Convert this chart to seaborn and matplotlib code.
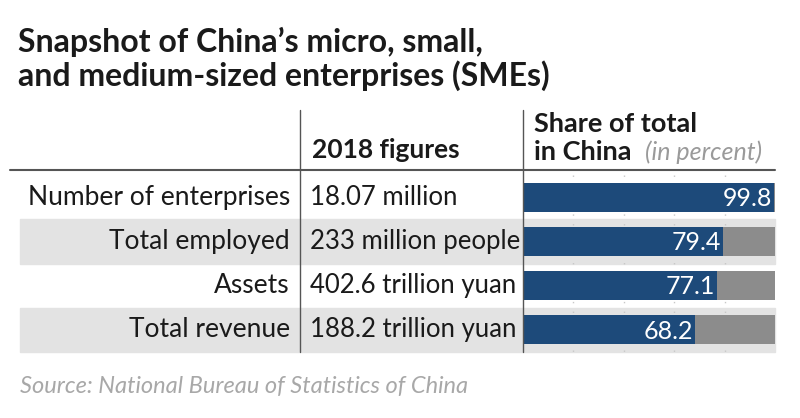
import matplotlib
matplotlib.use("Agg")
import matplotlib.pyplot as plt
import seaborn as sns
import pandas as pd
from matplotlib.patches import Rectangle
from matplotlib.lines import Line2D

# data
labels = ["Number of enterprises", "Total employed", "Assets", "Total revenue"]
figures_2018 = ["18.07 million", "233 million people", "402.6 trillion yuan", "188.2 trillion yuan"]
share = [99.8, 79.4, 77.1, 68.2]
total = [100, 100, 100, 100]

sns.set_style("white")
plt.rcParams["font.family"] = ["Lato", "DejaVu Sans"]

W, H = 800, 418
fig = plt.figure(figsize=(W / 100, H / 100), dpi=100)
fig.patch.set_facecolor("white")

def fx(x):
    return x / W

def fy(y):
    return 1 - y / H

# row geometry (pixels)
top, bottom = 175, 352
row_h = (bottom - top) / len(labels)

# grey stripes on alternate rows
for i in range(len(labels)):
    if i % 2 == 1:
        y0 = top + i * row_h
        fig.patches.append(Rectangle((fx(20), fy(y0 + row_h)), fx(775) - fx(20), row_h / H,
                                     transform=fig.transFigure, color="#e3e3e3", zorder=0))

# bar panel
ax = fig.add_axes([fx(523), fy(bottom), fx(775) - fx(523), (bottom - top) / H])
ax.set_zorder(2)
ax.patch.set_alpha(0)
df = pd.DataFrame({"label": labels, "share": share, "total": total})
ax.vlines([20, 40, 60, 80], -0.5, 3.5, colors="#c8c8c8", linestyles=(0, (1, 6)), lw=1, zorder=0)
sns.barplot(data=df, y="label", x="total", color="#8c8c8c", width=0.66, ax=ax,
            saturation=1, linewidth=0)
sns.barplot(data=df, y="label", x="share", color="#1d4a7a", width=0.66, ax=ax,
            saturation=1, linewidth=0)
for i, v in enumerate(share):
    ax.text(v - 0.8, i + 0.03, f"{v}", ha="right", va="center", color="white", fontsize=18)
ax.set_xlim(0, 100)
ax.set_ylim(3.5, -0.5)
ax.set_axis_off()

# table text
for i, (lab, fig_txt) in enumerate(zip(labels, figures_2018)):
    yc = top + (i + 0.5) * row_h
    fig.text(fx(290), fy(yc), lab, ha="right", va="center", fontsize=19, color="#1a1a1a", zorder=3)
    fig.text(fx(310), fy(yc), fig_txt, ha="left", va="center", fontsize=18.5, color="#1a1a1a", zorder=3)

# rules
fig.lines.append(Line2D([fx(10), fx(775)], [fy(170), fy(170)], transform=fig.transFigure,
                        color="#555555", lw=1.5, zorder=3))
for x in (300, 523):
    fig.lines.append(Line2D([fx(x), fx(x)], [fy(110), fy(352)], transform=fig.transFigure,
                            color="#555555", lw=1, zorder=3))

# headers
fig.text(fx(18), fy(42), "Snapshot of China’s micro, small,", fontsize=23, fontweight="bold",
         va="center", color="#1a1a1a")
fig.text(fx(18), fy(76), "and medium-sized enterprises (SMEs)", fontsize=23, fontweight="bold",
         va="center", color="#1a1a1a")
fig.text(fx(312), fy(150), "2018 figures", fontsize=19, fontweight="bold", va="center", color="#1a1a1a")
fig.text(fx(534), fy(124), "Share of total", fontsize=19.5, fontweight="bold", va="center", color="#1a1a1a")
fig.text(fx(534), fy(152), "in China", fontsize=19.5, fontweight="bold", va="center", color="#1a1a1a")
fig.text(fx(645), fy(152), "(in percent)", fontsize=18, style="italic", va="center", color="#9a9a9a")

# source
fig.text(fx(20), fy(386), "Source: National Bureau of Statistics of China", fontsize=17,
         style="italic", va="center", color="#a8a8a8")

fig.savefig("out.png", dpi=100, facecolor="white")
